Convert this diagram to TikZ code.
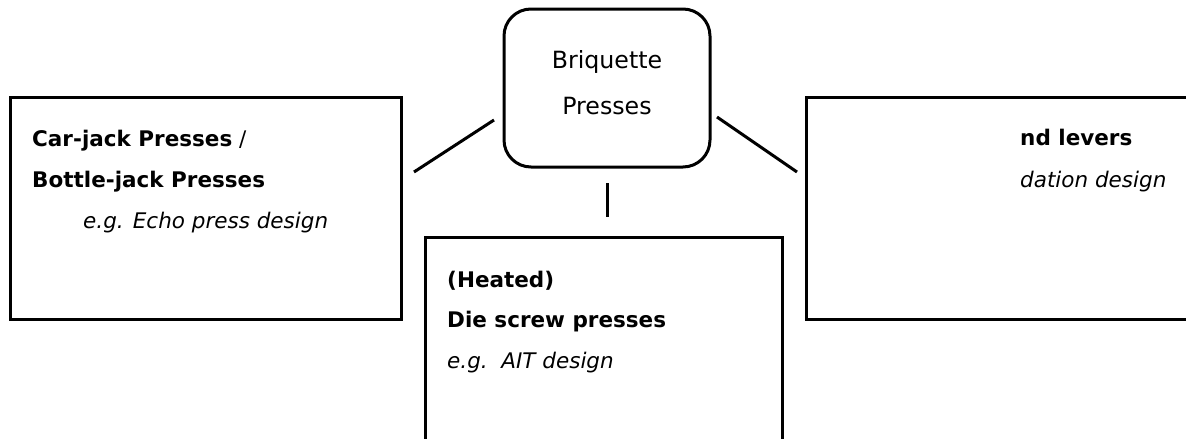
\documentclass[tikz,border=0pt]{standalone}
\usepackage{fontspec}
\setmainfont{DejaVu Sans}
\begin{document}
\begin{tikzpicture}[x=1pt,y=-1pt,
  box/.style={draw=black,line width=3pt,fill=white,inner sep=0pt},
  link/.style={draw=black,line width=3pt},
  txt/.style={anchor=base west,inner sep=0pt,font=\fontsize{21.5}{25}\selectfont},
  ctxt/.style={anchor=base,inner sep=0pt,font=\fontsize{23.7}{28}\selectfont}]
\useasboundingbox (0,0) rectangle (1186,439);
\clip (0,0) rectangle (1186,439);
\fill[white] (0,0) rectangle (1186,439);
% boxes
\node[box,rounded corners=27pt,minimum width=206pt,minimum height=158pt] (top) at (607,88) {};
\node[box,minimum width=391pt,minimum height=222pt] (left) at (205.5,208) {};
\node[box,minimum width=357pt,minimum height=230pt] (mid) at (603.5,352) {};
\node[box,minimum width=400pt,minimum height=222pt] (right) at (1006,208) {};
% texts
\node[ctxt] (t1) at (607,68) {Briquette};
\node[ctxt] (t2) at (607,114) {Presses};
\node[txt] (l1) at (32,146) {\textbf{Car-jack Presses} /};
\node[txt] (l2) at (32,187) {\textbf{Bottle-jack Presses}};
\node[txt] (l3) at (83,228) {\textit{e.g. Echo press design}};
\node[txt] (m1) at (447,287) {\textbf{(Heated)}};
\node[txt] (m2) at (447,327) {\textbf{Die screw presses}};
\node[txt] (m3) at (447,368) {\textit{e.g.~~AIT design}};
\node[txt] (r1) at (1020,145) {\textbf{nd levers}};
\node[txt] (r2) at (1020,187) {\textit{dation design}};
% connectors
\coordinate (aL1) at (494,120);
\coordinate (aL2) at (414,172);
\coordinate (aR1) at (717,117);
\coordinate (aR2) at (797,172);
\coordinate (aM1) at (607,183);
\coordinate (aM2) at (607,217);
\draw[link] (aL1) -- (aL2);
\draw[link] (aR1) -- (aR2);
\draw[link] (aM1) -- (aM2);
\end{tikzpicture}
\end{document}
